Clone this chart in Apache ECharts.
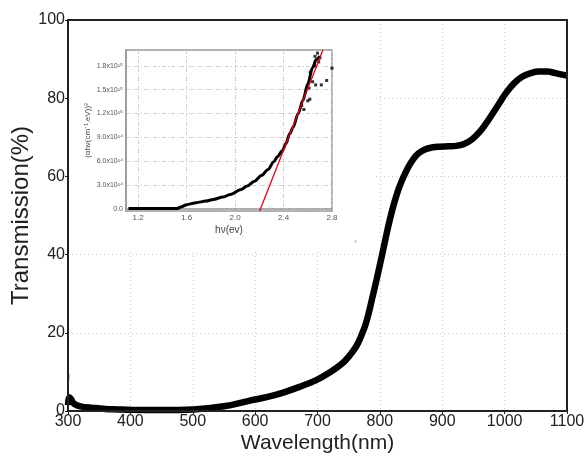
<!DOCTYPE html>
<html>
<head>
<meta charset="utf-8">
<script src="https://cdn.jsdelivr.net/npm/echarts@6/dist/echarts.min.js"></script>
<style>
  html, body { margin: 0; padding: 0; background: #fff; }
  #chart { width: 587px; height: 463px; }
</style>
</head>
<body>
<div id="chart"></div>
<script>
// main spectrum: wavelength (nm) vs transmission (%)
const wavelength = [300, 302, 305, 310, 320, 340, 360, 380, 400, 450, 500, 550, 590, 620, 645, 670, 698, 720, 740, 752, 762,
  770, 778, 788, 796, 805, 812, 820, 828, 835, 845, 853, 862, 874, 885, 895, 910, 922, 935, 948, 960, 970, 980, 991,
  1002, 1015, 1028, 1042, 1055, 1068, 1082, 1090, 1100];
const transmission = [1.5, 3.5, 3.0, 1.8, 1.2, 0.8, 0.5, 0.4, 0.3, 0.25, 0.4, 1.2, 2.6, 3.6, 4.7, 6.1, 7.9, 9.9, 12.2, 14.3, 16.5,
  19.2, 22.6, 29, 34.5, 41, 46.2, 51.5, 55.8, 58.8, 62.2, 64.3, 65.9, 67.0, 67.45, 67.6, 67.7, 67.8, 68.3, 69.5, 71.4, 73.5, 75.9, 78.6,
  81.3, 83.8, 85.5, 86.4, 86.8, 86.8, 86.4, 86.1, 85.8];
// stray points
const spikeX = [300.5];
const spikeY = [8.7];
const dotX = [761];
const dotY = [43.4];

const xTicks = [300, 400, 500, 600, 700, 800, 900, 1000, 1100];
const yTicks = [0, 20, 40, 60, 80, 100];

// inset: Tauc plot, photon energy (eV) vs (alpha h nu)^2
const energy = [1.12, 1.2, 1.3, 1.4, 1.52, 1.56, 1.6, 1.68, 1.76, 1.82, 1.9, 1.96, 2.05, 2.1, 2.16, 2.22, 2.27, 2.32, 2.35,
  2.39, 2.42, 2.45, 2.48, 2.52, 2.56, 2.6, 2.64, 2.67, 2.7];
const tauc = [0, 0, 0, 0, 0, 0.25e14, 0.5e14, 0.75e14, 0.95e14, 1.16e14, 1.45e14, 1.79e14, 2.41e14, 2.85e14, 3.45e14, 4.2e14,
  4.9e14, 5.9e14, 6.57e14, 7.3e14, 8.2e14, 9.4e14, 10.3e14, 11.97e14, 13.63e14, 15.71e14, 17.79e14, 18.8e14, 19.24e14];
const scatterE = [2.568, 2.617, 2.665, 2.712, 2.756, 2.8, 2.6, 2.62, 2.656, 2.66, 2.68, 2.69, 2.7, 2.64, 2.61, 2.55];
const scatterT = [12.5e14, 13.8e14, 15.6e14, 15.6e14, 16.16e14, 17.7e14, 13.6e14, 17.2e14, 18.0e14, 19.2e14, 19.6e14, 18.5e14,
  19.0e14, 16.0e14, 15.2e14, 13.0e14];
const fitE = [2.203, 2.725];
const fitT = [-0.03e15, 2.0e15];

const insetXTicks = [1.2, 1.6, 2.0, 2.4, 2.8];
const insetYTicks = [0, 3e14, 6e14, 9e14, 1.2e15, 1.5e15, 1.8e15];

const sup = { '0': '⁰', '1': '¹', '2': '²', '3': '³', '4': '⁴', '5': '⁵', '6': '⁶', '7': '⁷', '8': '⁸', '9': '⁹' };
function sciLabel(v) {
  if (v === 0) return '0.0';
  const e = Math.floor(Math.log10(v) + 1e-9);
  const m = v / Math.pow(10, e);
  return m.toFixed(1) + 'x10' + String(e).split('').map((c) => sup[c]).join('');
}

const zip = (a, b) => a.map((x, i) => [x, b[i]]);

const font = '"Liberation Sans", Arial, sans-serif';
const chart = echarts.init(document.getElementById('chart'));

chart.setOption({
  animation: false,
  backgroundColor: '#fff',
  graphic: [{
    type: 'rect',
    z: 1,
    shape: { x: 71, y: 22, width: 305, height: 228 },
    style: { fill: '#fff' },
  }],
  grid: [
    {
      left: 68, right: 20, top: 20, bottom: 52,
      outerBoundsMode: 'none', containLabel: false,
      show: true, borderColor: '#222', borderWidth: 2, z: 3,
    },
    {
      left: 126, top: 50, width: 206, height: 161,
      outerBoundsMode: 'none', containLabel: false,
      show: true, borderColor: '#999', borderWidth: 1.5, z: 3,
    },
  ],
  xAxis: [
    {
      type: 'value', gridIndex: 0, min: 300, max: 1100, interval: 100,
      name: 'Wavelength(nm)', nameLocation: 'middle', nameGap: 22, nameMoveOverlap: false,
      nameTextStyle: { fontFamily: font, fontSize: 21, color: '#222' },
      axisLine: { lineStyle: { color: '#222', width: 2 } },
      axisTick: { show: true, length: 3, lineStyle: { color: '#222' } },
      axisLabel: {
        fontFamily: font, fontSize: 16, color: '#222', margin: 3,
        customValues: xTicks, formatter: (v) => String(v),
      },
      splitLine: { show: true, lineStyle: { color: '#c8c8c8', type: [1, 3], width: 1 } },
    },
    {
      type: 'value', gridIndex: 1, min: 1.1, max: 2.8, z: 3,
      name: 'hν(ev)', nameLocation: 'middle', nameGap: 14, nameMoveOverlap: false,
      nameTextStyle: { fontFamily: font, fontSize: 10, color: '#444' },
      axisLine: { lineStyle: { color: '#999', width: 1.5 } },
      axisTick: { show: false, customValues: insetXTicks },
      axisLabel: {
        fontFamily: font, fontSize: 8, color: '#555', margin: 3,
        customValues: insetXTicks, formatter: (v) => v.toFixed(1),
      },
      splitLine: { show: true, lineStyle: { color: '#cfcfcf', type: [4, 2, 1, 2], width: 1 } },
    },
  ],
  yAxis: [
    {
      type: 'value', gridIndex: 0, min: 0, max: 100, interval: 20,
      name: 'Transmission(%)', nameLocation: 'middle', nameGap: 35, nameMoveOverlap: false,
      nameTextStyle: { fontFamily: font, fontSize: 24, color: '#222' },
      axisLine: { lineStyle: { color: '#222', width: 2 } },
      axisTick: { show: true, length: 3, lineStyle: { color: '#222' } },
      axisLabel: {
        fontFamily: font, fontSize: 16, color: '#222', margin: 3,
        customValues: yTicks, formatter: (v) => String(v),
      },
      splitLine: { show: true, lineStyle: { color: '#c8c8c8', type: [1, 3], width: 1 } },
    },
    {
      type: 'value', gridIndex: 1, min: -0.03e15, max: 2.0e15, z: 3,
      name: '(αhν(cm⁻¹.eV))²', nameLocation: 'middle', nameGap: 34, nameMoveOverlap: false,
      nameTextStyle: { fontFamily: font, fontSize: 8, color: '#444' },
      axisLine: { lineStyle: { color: '#999', width: 1.5 } },
      axisTick: { show: false, customValues: insetYTicks },
      axisLabel: {
        fontFamily: font, fontSize: 7, color: '#555', margin: 3,
        customValues: insetYTicks, formatter: sciLabel,
      },
      splitLine: { show: true, lineStyle: { color: '#cfcfcf', type: [4, 2, 1, 2], width: 1 } },
    },
  ],
  series: [
    {
      type: 'line', xAxisIndex: 0, yAxisIndex: 0, z: 2,
      data: zip(wavelength, transmission),
      smooth: 0.4, showSymbol: false, clip: false,
      lineStyle: { color: '#000', width: 6.5 },
    },
    {
      type: 'scatter', xAxisIndex: 0, yAxisIndex: 0, z: 2,
      data: zip(spikeX, spikeY),
      symbol: 'rect', symbolSize: [2, 7],
      itemStyle: { color: '#222' },
    },
    {
      type: 'scatter', xAxisIndex: 0, yAxisIndex: 0, z: 2,
      data: zip(dotX, dotY),
      symbol: 'rect', symbolSize: 2,
      itemStyle: { color: '#aaa' },
    },
    {
      type: 'line', xAxisIndex: 1, yAxisIndex: 1, z: 4,
      data: zip(energy, tauc),
      smooth: 0.3, smoothMonotone: 'x', showSymbol: false,
      lineStyle: { color: '#000', width: 3 },
    },
    {
      type: 'scatter', xAxisIndex: 1, yAxisIndex: 1, z: 4,
      data: zip(scatterE, scatterT),
      symbol: 'rect', symbolSize: 3,
      itemStyle: { color: '#000' },
    },
    {
      type: 'line', xAxisIndex: 1, yAxisIndex: 1, z: 5,
      data: zip(fitE, fitT),
      showSymbol: false,
      lineStyle: { color: '#e8001a', width: 1.3 },
    },
  ],
});
</script>
</body>
</html>
